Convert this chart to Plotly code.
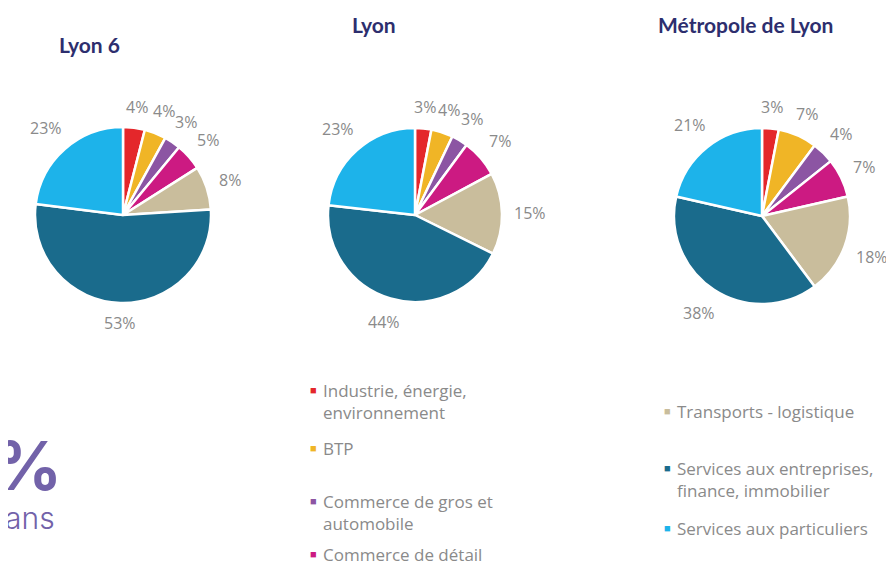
import numpy as np
import plotly.graph_objects as go

W, H = 894, 562
OFF = 8  # the page body adds an 8px margin

sectors = ["Industrie, énergie, environnement", "BTP", "Commerce de gros et automobile",
           "Commerce de détail", "Transports - logistique",
           "Services aux entreprises, finance, immobilier", "Services aux particuliers"]
colors = ["#e4272b", "#f0b526", "#8c55a3", "#cc1a82", "#c9bd9c", "#1a6b8c", "#1db3ea"]

lyon6 = [4, 4, 3, 5, 8, 53, 23]
lyon = [3, 4, 3, 7, 15, 44, 23]
metropole = [3, 7, 4, 7, 18, 38, 21]

titles = ["Lyon 6", "Lyon", "Métropole de Lyon"]

# legend text, split the way it wraps in the original
legend_lines = ["Industrie, énergie,<br>environnement", "BTP", "Commerce de gros et<br>automobile",
                "Commerce de détail", "Transports - logistique",
                "Services aux entreprises,<br>finance, immobilier", "Services aux particuliers"]

FW, FH = W - OFF, H - OFF


def px(x):
    return (x - OFF) / FW


def py(y):
    return 1 - (y - OFF) / FH


def dom(cx, cy, r):
    return dict(x=[px(cx - r), px(cx + r)], y=[py(cy + r), py(cy - r)])


fig = go.Figure()
ann = []
centers = [(123, 215, 88), (415, 215, 87), (762, 216, 88)]
for vals, (cx, cy, r) in zip([lyon6, lyon, metropole], centers):
    fig.add_trace(go.Pie(
        values=vals, labels=sectors, sort=False, direction="clockwise", rotation=0,
        marker=dict(colors=colors, line=dict(color="white", width=2.5)),
        textinfo="none", domain=dom(cx, cy, r), showlegend=False, hoverinfo="label+value"))
    # data labels placed outside, along each slice's middle angle
    v = np.array(vals, dtype=float)
    mids = (np.cumsum(v) - v / 2) / v.sum() * 2 * np.pi
    for val, a in zip(vals, mids):
        t = f"{val}%"
        hw = (len(t) - 1) * 4.6 + 6.5
        d = r + 12 + hw * abs(np.sin(a)) + 8 * abs(np.cos(a))
        ann.append(dict(text=t, x=px(cx + d * np.sin(a)), y=py(cy - d * np.cos(a)),
                        xanchor="center", yanchor="middle",
                        font=dict(family="Open Sans", size=16, color="#8a8a8a")))

for t, (x, y) in zip(titles, [(89, 44), (374, 25), (745, 25)]):
    ann.append(dict(text="<b>" + t + "</b>", x=px(x), y=py(y), xanchor="center", yanchor="middle",
                    font=dict(family="Lato", size=21, color="#2d2e6e")))

# legend made of annotations (two columns)
leg_pos = [(313, 389), (313, 447), (313, 500), (313, 553), (667, 410), (667, 467), (667, 527)]
for txt, c, (x, y) in zip(legend_lines, colors, leg_pos):
    ann.append(dict(text="■", x=px(x), y=py(y), xanchor="center", yanchor="middle",
                    font=dict(size=11, color=c)))
    ann.append(dict(text=txt, x=px(x + 8), y=py(y - 12), xanchor="left", yanchor="top", align="left",
                    font=dict(family="Open Sans", size=17, color="#8a8a8a")))

# leftover text on the left edge of the page
ann.append(dict(text="<b>%</b>", x=px(64), y=py(465), xanchor="right", yanchor="middle",
                font=dict(family="Inter", size=68, color="#7262a9")))
ann.append(dict(text="ans", x=px(57), y=py(518), xanchor="right", yanchor="middle",
                font=dict(family="Inter", size=30, color="#7262a9", weight=300)))

for a in ann:
    a.update(xref="paper", yref="paper", showarrow=False)

fig.update_layout(width=FW, height=FH, margin=dict(l=0, r=0, t=0, b=0),
                  paper_bgcolor="white", plot_bgcolor="white", annotations=ann)
fig.write_html("out.html")
